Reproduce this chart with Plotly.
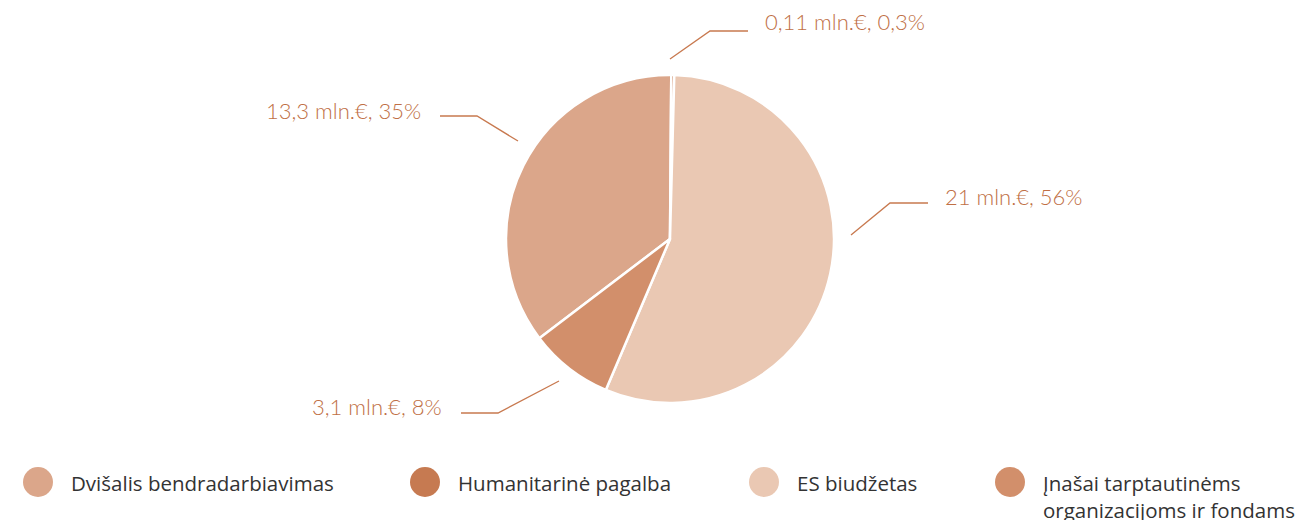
import plotly.graph_objects as go

# ---- data ----
categories = ["Dvišalis bendradarbiavimas", "Humanitarinė pagalba", "ES biudžetas",
              "Įnašai tarptautinėms<br>organizacijoms ir fondams"]
values_mln = [13.3, 0.11, 21, 3.1]
value_labels = ["13,3 mln.€, 35%", "0,11 mln.€, 0,3%", "21 mln.€, 56%", "3,1 mln.€, 8%"]

# ---- style ----
colors = ["#dba68a", "#c67a51", "#eac8b3", "#d28f6b"]
label_color = "#c06f45"
line_color = "#c8794f"
W, H = 1307, 520
cx, cy, R = 670, 239, 164


def px(x, y):
    return x / W, 1 - y / H


fig = go.Figure()
fig.add_trace(go.Pie(
    labels=categories, values=values_mln, sort=False, direction="clockwise",
    rotation=-127.2, textinfo="none", hoverinfo="label+value",
    marker=dict(colors=colors, line=dict(color="white", width=2.5)),
    domain=dict(x=[(cx - R) / W, (cx + R) / W], y=[1 - (cy + R) / H, 1 - (cy - R) / H]),
    showlegend=False,
))

# leader lines and label positions (pixel layout), in category order
leaders = [
    [(518, 141), (477, 116), (440, 116)],
    [(670, 59), (710, 31), (748, 31)],
    [(851, 235), (890, 203), (928, 203)],
    [(559, 381), (498, 413), (461, 413)],
]
label_pos = [(423, 110, "right"), (763, 22, "left"), (943, 196, "left"), (444, 406, "right")]

shapes = []
annotations = []
for pts, (lx, ly, anchor), txt in zip(leaders, label_pos, value_labels):
    path = "M " + " L ".join(f"{px(x, y)[0]},{px(x, y)[1]}" for x, y in pts)
    shapes.append(dict(type="path", xref="paper", yref="paper", path=path,
                       line=dict(color=line_color, width=1.3)))
    ax, ay = px(lx, ly)
    annotations.append(dict(x=ax, y=ay, xref="paper", yref="paper", text=txt,
                            showarrow=False, xanchor=anchor, yanchor="middle",
                            font=dict(family="Lato", size=22, weight=300, color=label_color)))

# manual legend with circular markers
legend_x = [38, 425, 764, 1010]
legend_y = 482
r_leg = 15
for lx0, cat, col in zip(legend_x, categories, colors):
    x0, y0 = px(lx0 - r_leg, legend_y + r_leg)
    x1, y1 = px(lx0 + r_leg, legend_y - r_leg)
    shapes.append(dict(type="circle", xref="paper", yref="paper", x0=x0, y0=y0, x1=x1, y1=y1,
                       fillcolor=col, line=dict(width=0)))
    tx, ty = px(lx0 + 31, legend_y - 15)
    annotations.append(dict(x=tx, y=ty, xref="paper", yref="paper", text=cat,
                            showarrow=False, xanchor="left", yanchor="top", align="left",
                            font=dict(family="Open Sans", size=20.5, color="#333333")))

fig.update_layout(
    width=W, height=H, margin=dict(l=0, r=0, t=0, b=0),
    paper_bgcolor="white", plot_bgcolor="white",
    shapes=shapes, annotations=annotations, showlegend=False,
)

fig.write_html("out.html", config={"displayModeBar": False},
               post_script="document.body.style.margin='0';")
